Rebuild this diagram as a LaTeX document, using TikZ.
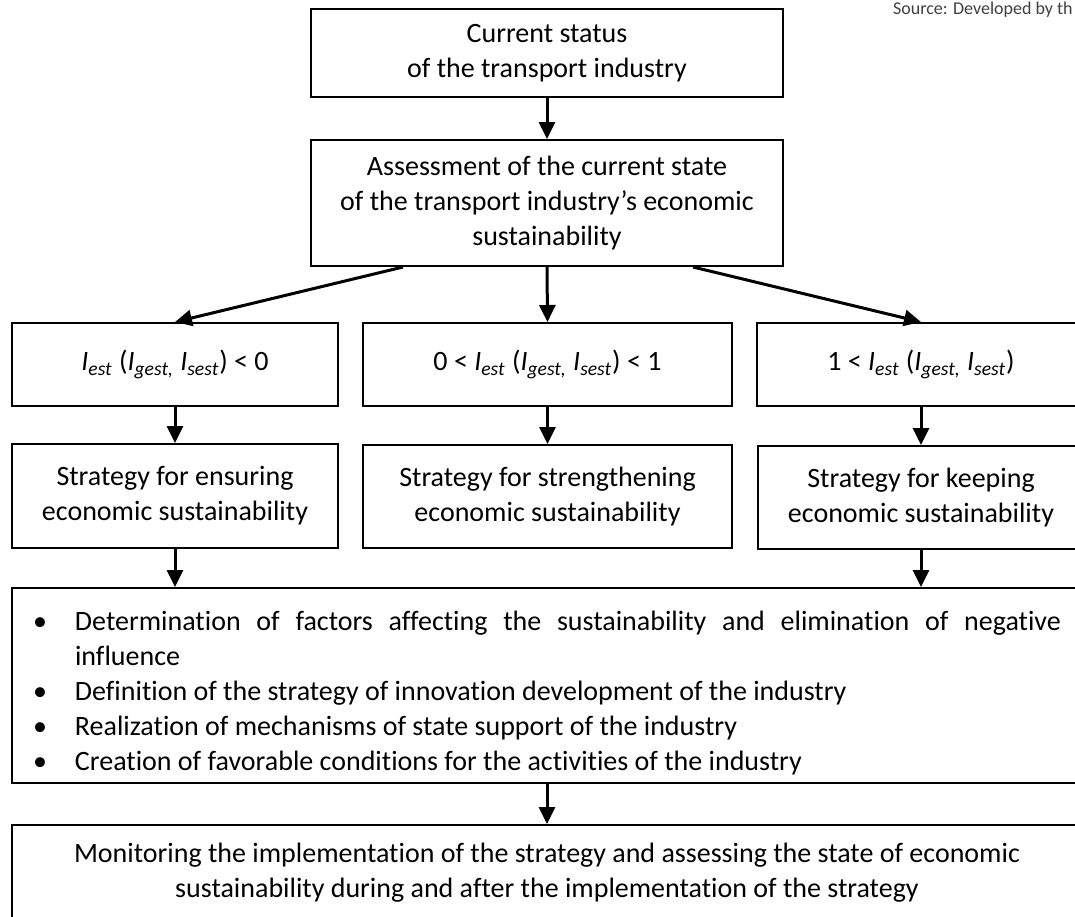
\documentclass[tikz,border=0pt]{standalone}
\usepackage{fontspec}
\setmainfont{Carlito}[Ligatures={NoCommon}]
\usetikzlibrary{arrows.meta}
\tikzset{>={Triangle[length=8.5pt,width=8pt]}}
\tikzstyle{stage}=[draw,line width=1pt,align=center,inner sep=0pt,font=\fontsize{14}{17.5}\selectfont]
\tikzstyle{flow}=[->,line width=1.5pt]
\newcommand{\Isub}[1]{\textit{I}\textsubscript{\textit{#1}}}
\newcommand{\bulletitem}{\par\noindent\hangindent=21pt\hangafter=1\makebox[21pt][l]{\textbullet}}

\begin{document}
\begin{tikzpicture}[x=0.5pt,y=-0.5pt]

  \useasboundingbox (0,0) rectangle (1075,916);
  \clip (0,0) rectangle (1075,916);

  \node[anchor=base west,font=\fontsize{9}{11}\selectfont,text=black!75] (source) at (886,14) {Source: Developed by th};

  % top of the scheme
  \node[stage,minimum width=236pt,minimum height=44pt] (status) at (547,53)
    {Current status\\of the transport industry};
  \node[stage,minimum width=236pt,minimum height=63pt] (assess) at (547,203)
    {Assessment of the current state\\of the transport industry’s economic\\sustainability};

  % conditions
  \node[stage,minimum width=163pt,minimum height=41.5pt] (cond1) at (175,364.5)
    {\Isub{est} (\Isub{gest,} \Isub{sest}) < 0};
  \node[stage,minimum width=184.5pt,minimum height=41.5pt] (cond2) at (547.5,364.5)
    {0 < \Isub{est} (\Isub{gest,} \Isub{sest}) < 1};
  \node[stage,minimum width=164pt,minimum height=41.5pt] (cond3) at (921,364.5)
    {1 < \Isub{est} (\Isub{gest,} \Isub{sest})};

  % strategies
  \node[stage,minimum width=163pt,minimum height=52pt] (strat1) at (175,496)
    {Strategy for ensuring\\economic sustainability};
  \node[stage,minimum width=184.5pt,minimum height=51.5pt] (strat2) at (547.5,496.5)
    {Strategy for strengthening\\economic sustainability};
  \node[stage,minimum width=163pt,minimum height=51.5pt] (strat3) at (921,497.5)
    {Strategy for keeping\\economic sustainability};

  % measures and monitoring
  \node[stage,align=justify,text width=514pt,inner xsep=10.5pt,minimum width=535pt,minimum height=97.5pt] (measures) at (547,685.5) {%
    \hyphenpenalty=10000
    \bulletitem Determination of factors affecting the sustainability and elimination of negative influence
    \bulletitem Definition of the strategy of innovation development of the industry
    \bulletitem Realization of mechanisms of state support of the industry
    \bulletitem Creation of favorable conditions for the activities of the industry\par};
  \node[stage,minimum width=535pt,minimum height=48pt] (monitor) at (547,873)
    {Monitoring the implementation of the strategy and assessing the state of economic\\sustainability during and after the implementation of the strategy};

  % connectors
  \draw[flow] (status.south) -- (assess.north);
  \draw[flow] ([xshift=-72pt]assess.south) -- (cond1.north);
  \draw[flow] (assess.south) -- (cond2.north);
  \draw[flow] ([xshift=73pt]assess.south) -- (cond3.north);
  \foreach \i in {1,2,3}{
    \draw[flow] (cond\i.south) -- (strat\i.north);
  }
  \draw[flow] (strat1.south) -- (strat1.south |- measures.north);
  \draw[flow] (strat3.south) -- (strat3.south |- measures.north);
  \draw[flow] (measures.south) -- (monitor.north);

\end{tikzpicture}
\end{document}
